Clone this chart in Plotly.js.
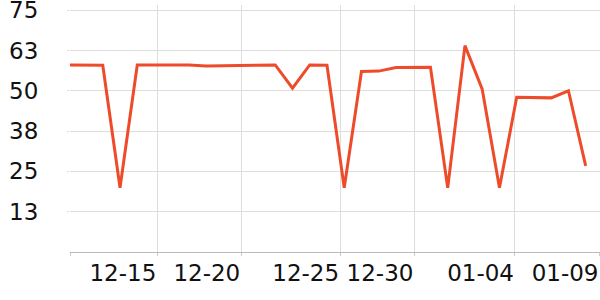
<!DOCTYPE html>
<html>
<head>
<meta charset="utf-8">
<script src="https://cdn.plot.ly/plotly-3.0.1.min.js"></script>
<style>html,body{margin:0;padding:0;background:#fff;}#chart{width:600px;height:300px;}</style>
</head>
<body>
<div id="chart"></div>
<script>
const values = [58.0, 58.0, 57.9, 19.9, 58.0, 58.0, 58.0, 58.0, 57.7, 57.8, 58.0, 58.0, 58.0, 50.8, 58.0, 57.9, 19.9, 56.0, 56.1, 57.2, 57.3, 57.3, 19.9, 64.0, 50.5, 19.9, 48.0, 48.0, 47.8, 50.0, 26.7];
const xTickPos = [0.12, 5.16, 10.03, 15.76, 20.07, 25.90, 30.80];
const xTickLabels = ['', '12-15', '12-20', '12-25', '12-30', '01-04', '01-09'];
const yTickVals = [12.5, 25, 37.5, 50, 62.5, 75];
const yTickLabels = ['13', '25', '38', '50', '63', '75'];

const xIdx = values.map((v, i) => i);
const trace = {
  x: xIdx, y: values, type: 'scatter', mode: 'lines',
  line: {color: '#ee4b2b', width: 3}, hoverinfo: 'none'
};
const layout = {
  width: 600, height: 300,
  margin: {l: 70, r: 0, t: 5, b: 48},
  paper_bgcolor: '#fff', plot_bgcolor: '#fff',
  showlegend: false,
  font: {family: 'DejaVu Sans', size: 23, color: '#111'},
  xaxis: {
    type: 'linear', range: [0.10, 30.83],
    tickmode: 'array', tickvals: xTickPos, ticktext: xTickLabels,
    tickangle: 0,
    ticklabelposition: 'outside left',
    ticklabeloverflow: 'allow',
    showgrid: true, gridcolor: '#dddddd', gridwidth: 1,
    showline: true, linecolor: '#bbbbbb', linewidth: 1,
    ticks: 'outside', ticklen: 3, tickcolor: '#cccccc',
    zeroline: false, fixedrange: true
  },
  yaxis: {
    range: [0, 76.6], tickmode: 'array',
    tickvals: yTickVals, ticktext: yTickLabels,
    ticklabeloverflow: 'allow',
    showgrid: true, gridcolor: '#dddddd', gridwidth: 1,
    showline: false, zeroline: false,
    ticks: 'outside', ticklen: 2, tickcolor: '#dddddd',
    ticklabelstandoff: 24, fixedrange: true
  }
};
Plotly.newPlot('chart', [trace], layout, {displayModeBar: false, staticPlot: true});
</script>
</body>
</html>
